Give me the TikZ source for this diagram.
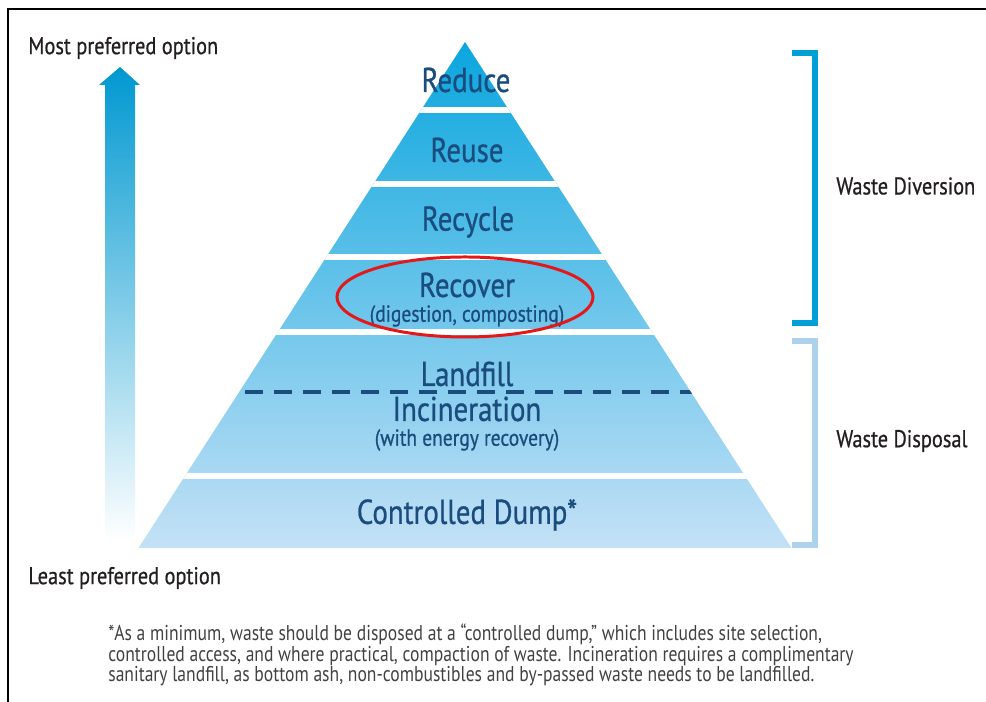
\documentclass[tikz,border=0pt]{standalone}
\usepackage{fontspec}
\setmainfont[FakeStretch=0.82]{PT Sans}
\newfontfamily\labelfont[FakeStretch=0.84,FakeBold=0.7]{PT Sans}
\definecolor{tiertop}{RGB}{10,166,222}
\definecolor{tierbottom}{RGB}{196,225,246}
\definecolor{arrowtop}{RGB}{0,152,208}
\definecolor{labelblue}{RGB}{26,76,126}
\definecolor{divblue}{RGB}{0,160,214}
\definecolor{dispblue}{RGB}{172,210,236}
\definecolor{headgray}{RGB}{35,31,32}
\definecolor{notegray}{RGB}{66,66,66}
\definecolor{ringred}{RGB}{228,24,24}
\begin{document}
\begin{tikzpicture}[
	tier/.style={text=labelblue,inner sep=0pt,font=\labelfont\fontsize{19.6}{21}\selectfont},
	tiernote/.style={text=labelblue,inner sep=0pt,font=\labelfont\fontsize{13.2}{14}\selectfont},
	side/.style={text=headgray,inner sep=0pt,anchor=west,font=\labelfont\fontsize{13.8}{15}\selectfont},
	bracket/.style={line width=3.4pt}
]
	\useasboundingbox (0,0) rectangle (19.72,14.04);
	\draw[line width=1.1pt] (0.16,0) -- (0.16,13.86) -- (19.72,13.86);

	\shade[top color=arrowtop,bottom color=white] (2.10,3.24) -- (2.10,12.34) -- (1.98,12.34) -- (2.40,12.70) -- (2.80,12.34) -- (2.70,12.34) -- (2.70,3.24) -- cycle;
	\node[side] (most) at (0.56,13.08) {Most preferred option};
	\node[side] (least) at (0.56,2.48) {Least preferred option};

	\begin{scope}
		\clip (9.30,13.20) -- (2.77,3.08) -- (15.83,3.08) -- cycle;
		\shade[top color=tiertop,bottom color=tierbottom] (2.6,3.08) rectangle (16.0,13.2);
		\fill[white] (2.6,11.78) rectangle (16.0,11.90);
		\fill[white] (2.6,10.30) rectangle (16.0,10.42);
		\fill[white] (2.6,8.84) rectangle (16.0,8.96);
		\fill[white] (2.6,7.34) rectangle (16.0,7.46);
		\fill[white] (2.6,4.46) rectangle (16.0,4.58);
		\draw[labelblue,line width=2.2pt,dash pattern=on 10pt off 6.5pt] (4.90,6.20) -- (13.90,6.20);
	\end{scope}

	\node[tier] (reduce) at (9.32,12.44) {Reduce};
	\node[tier] (reuse) at (9.34,11.04) {Reuse};
	\node[tier] (recycle) at (9.36,9.60) {Recycle};
	\node[tier] (recover) at (9.34,8.34) {Recover};
	\node[tiernote] (recovernote) at (9.34,7.72) {(digestion, composting)};
	\node[tier] (landfill) at (9.34,6.56) {Landfill};
	\node[tier] (incineration) at (9.34,5.86) {Incineration};
	\node[tiernote] (incinerationnote) at (9.34,5.24) {(with energy recovery)};
	\node[tier] (dump) at (9.34,3.74) {Controlled Dump*};

	\draw[ringred,line width=1.7pt] (9.30,8.10) ellipse (2.56 and 0.80);

	\draw[bracket,divblue] (15.84,12.98) -- (16.30,12.98) -- (16.30,7.58) -- (15.84,7.58);
	\draw[bracket,dispblue] (15.84,7.22) -- (16.30,7.22) -- (16.30,3.14) -- (15.84,3.14);
	\node[side] (diversion) at (16.72,10.32) {Waste Diversion};
	\node[side] (disposal) at (16.72,5.22) {Waste Disposal};

	\node[text=notegray,inner sep=0pt,anchor=west,align=left,font=\fontsize{12.2}{11.8}\selectfont] (footnote) at (2.16,0.94) {*As a minimum, waste should be disposed at a “controlled dump,” which includes site selection,\\controlled access, and where practical, compaction of waste.  Incineration requires a complimentary\\sanitary landfill, as bottom ash, non-combustibles and by-passed waste needs to be landfilled.};
\end{tikzpicture}
\end{document}
